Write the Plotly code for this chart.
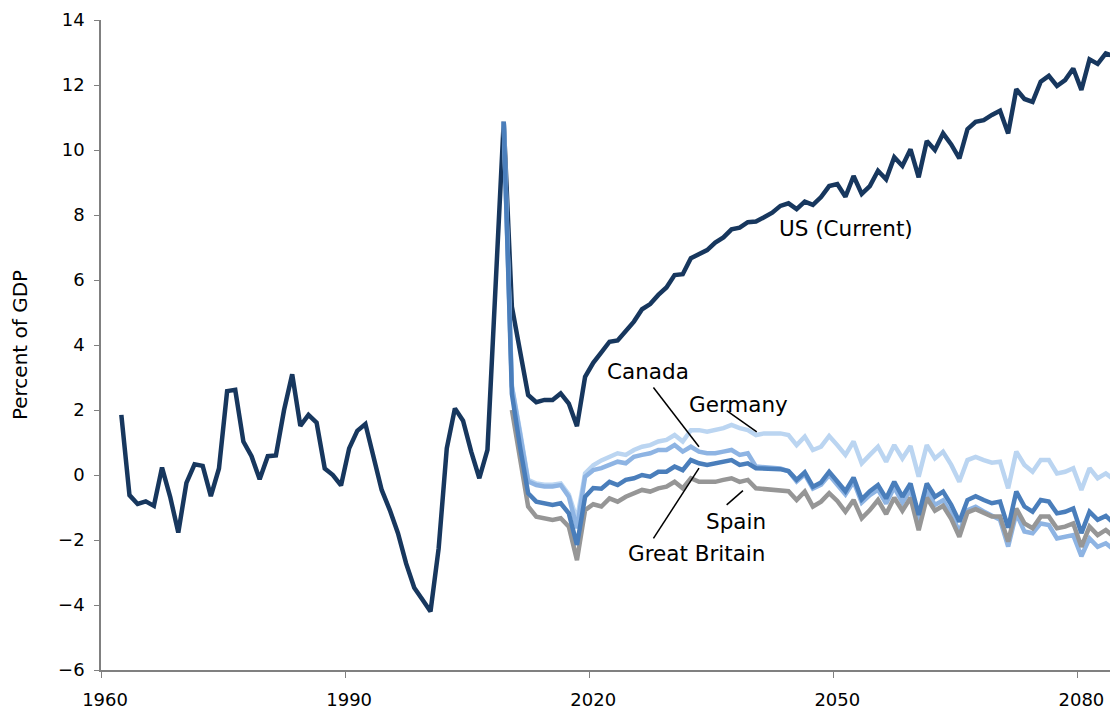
import plotly.graph_objects as go

# ---------- data (percent of GDP) ----------
us_years = list(range(1962, 2085))
us_values = [
    1.85, -0.62, -0.89, -0.81, -0.95, 0.23, -0.67, -1.77,            # 1962-1969
    -0.24, 0.33, 0.28, -0.65, 0.2, 2.58, 2.62, 1.03, 0.58, -0.13,     # 1970-1979
    0.58, 0.6, 2.0, 3.1, 1.51, 1.85, 1.61, 0.2, 0.0, -0.32,           # 1980-1989
    0.82, 1.36, 1.57, 0.51, -0.46, -1.08, -1.79, -2.72, -3.47, -3.83,  # 1990-1999
    -4.2, -2.26, 0.82, 2.05, 1.67, 0.72, -0.1, 0.77, 5.64, 10.87,     # 2000-2009
    5.18, 3.74, 2.46, 2.24, 2.31, 2.31, 2.51, 2.2, 1.5, 3.02,         # 2010-2019
    3.45, 3.77, 4.1, 4.14, 4.45, 4.72, 5.1, 5.26, 5.54, 5.77,         # 2020-2029
    6.15, 6.18, 6.67, 6.8, 6.92, 7.15, 7.31, 7.56, 7.61, 7.78,        # 2030-2039
    7.8, 7.93, 8.07, 8.28, 8.36, 8.18, 8.41, 8.31, 8.55, 8.89,        # 2040-2049
    8.95, 8.56, 9.2, 8.65, 8.89, 9.36, 9.1, 9.78, 9.51, 10.02,        # 2050-2059
    9.16, 10.28, 10.0, 10.51, 10.17, 9.74, 10.64, 10.87, 10.92, 11.08,  # 2060-2069
    11.21, 10.51, 11.87, 11.57, 11.48, 12.1, 12.28, 11.97, 12.15, 12.51,  # 2070-2079
    11.85, 12.79, 12.65, 12.97, 12.89,                                # 2080-2084
]

intl_years = list(range(2009, 2085))
germany = [
    10.87, 2.75, 1.35, -0.15, -0.26, -0.3, -0.3, -0.26, -0.6, -1.38,
    0.05, 0.3, 0.45, 0.56, 0.67, 0.62, 0.77, 0.87, 0.92, 1.03,
    1.08, 1.23, 1.03, 1.38, 1.38, 1.33, 1.38, 1.44, 1.54, 1.44,
    1.38, 1.23, 1.28, 1.28, 1.28, 1.23, 0.92, 1.18, 0.77, 0.87,
    1.2, 0.92, 0.62, 1.03, 0.36, 0.62, 0.87, 0.41, 0.92, 0.51,
    0.89, -0.05, 0.92, 0.51, 0.72, 0.31, -0.21, 0.46, 0.56, 0.46,
    0.38, 0.41, -0.41, 0.72, 0.31, 0.1, 0.46, 0.46, 0.05, 0.1,
    0.21, -0.46, 0.21, -0.1, 0.05, -0.15,
]
canada = [
    10.87, 2.72, 1.28, -0.2, -0.31, -0.35, -0.35, -0.31, -0.67, -1.64,
    -0.05, 0.15, 0.21, 0.31, 0.41, 0.36, 0.56, 0.62, 0.67, 0.77,
    0.77, 0.92, 0.72, 0.87, 0.72, 0.67, 0.67, 0.72, 0.77, 0.62,
    0.67, 0.26, 0.24, 0.22, 0.2, 0.12, -0.2, 0.02, -0.42, -0.3,
    0.0, -0.3, -0.6, -0.2, -0.85, -0.62, -0.45, -0.88, -0.38, -0.85,
    -0.45, -1.45, -0.5, -0.92, -0.78, -1.2, -1.75, -1.08, -0.98, -1.12,
    -1.25, -1.38, -2.2, -1.18, -1.74, -1.79, -1.49, -1.54, -1.95, -1.9,
    -1.85, -2.5, -1.95, -2.21, -2.1, -2.3,
]
great_britain = [
    10.87, 2.5, 0.87, -0.56, -0.82, -0.87, -0.92, -0.87, -1.18, -2.15,
    -0.67, -0.4, -0.42, -0.21, -0.31, -0.15, -0.1, 0.0, -0.05, 0.1,
    0.1, 0.26, 0.15, 0.46, 0.36, 0.31, 0.36, 0.4, 0.46, 0.31,
    0.36, 0.21, 0.2, 0.2, 0.18, 0.12, -0.15, 0.08, -0.36, -0.23,
    0.1, -0.2, -0.5, -0.08, -0.75, -0.5, -0.31, -0.72, -0.21, -0.67,
    -0.26, -1.23, -0.26, -0.67, -0.51, -0.92, -1.44, -0.77, -0.65, -0.77,
    -0.87, -0.82, -1.62, -0.51, -0.97, -1.13, -0.77, -0.82, -1.18, -1.13,
    -1.03, -1.79, -1.13, -1.38, -1.26, -1.49,
]
spain_years = list(range(2010, 2085))
spain = [
    2.0, 0.46, -0.97, -1.28, -1.33, -1.38, -1.33, -1.59, -2.62,
    -1.08, -0.9, -0.97, -0.72, -0.82, -0.67, -0.56, -0.46, -0.51, -0.41,
    -0.36, -0.21, -0.41, -0.1, -0.21, -0.21, -0.21, -0.15, -0.1, -0.21,
    -0.15, -0.41, -0.43, -0.43, -0.45, -0.5, -0.77, -0.51, -0.97, -0.82,
    -0.56, -0.8, -1.13, -0.77, -1.33, -1.08, -0.77, -1.2, -0.7, -1.1,
    -0.7, -1.7, -0.7, -1.1, -0.95, -1.35, -1.9, -1.15, -1.05, -1.15,
    -1.28, -1.28, -2.05, -1.03, -1.49, -1.64, -1.28, -1.28, -1.64, -1.59,
    -1.49, -2.21, -1.59, -1.85, -1.69, -1.9,
]

x_tick_labels = ["1960", "1990", "2020", "2050", "2080"]
y_ticks = [-6, -4, -2, 0, 2, 4, 6, 8, 10, 12, 14]

# ---------- figure ----------
FONT = "Verdana, DejaVu Sans, sans-serif"

series = [
    ("US (Current)", us_years, us_values, "#17375E"),
    ("Germany", intl_years, germany, "#BBD5F1"),
    ("Canada", intl_years, canada, "#8EB4E3"),
    ("Spain", spain_years, spain, "#969696"),
    ("Great Britain", intl_years, great_britain, "#4A7EBB"),
]

fig = go.Figure()
for name, xs, ys, color in series:
    fig.add_trace(go.Scatter(x=xs, y=ys, mode="lines", name=name,
                             line=dict(color=color, width=4.5)))

# series labels (text, x, y) and leader lines (x0, y0, x1, y1)
labels = [
    ("US (Current)", 2051.1, 7.57),
    ("Canada", 2026.7, 3.2),
    ("Germany", 2037.9, 2.18),
    ("Spain", 2037.55, -1.42),
    ("Great Britain", 2032.75, -2.4),
]
leaders = [
    (2027.4, 2.69, 2033.0, 0.87),
    (2036.4, 1.98, 2040.1, 1.33),
    (2036.4, -0.92, 2038.4, -0.48),
    (2027.4, -1.95, 2033.0, 0.21),
]
for text, x, y in labels:
    fig.add_annotation(x=x, y=y, text=text, showarrow=False,
                       font=dict(size=21.5, color="black", family=FONT))
for x0, y0, x1, y1 in leaders:
    fig.add_shape(type="line", x0=x0, y0=y0, x1=x1, y1=y1,
                  line=dict(color="black", width=1.5))

tick_years = [int(t) for t in x_tick_labels]
# the page body adds 8px on the top/left, margins compensate for it
fig.update_layout(
    width=1118, height=715,
    margin=dict(l=93, r=8, t=12, b=53),
    paper_bgcolor="white", plot_bgcolor="white",
    showlegend=False,
    font=dict(family=FONT, size=16, color="black"),
    xaxis=dict(
        range=[1959.5, 2084.5], automargin=False,
        tickvals=tick_years, ticktext=x_tick_labels, ticks="",
        ticklabelstandoff=13,
        minor=dict(tickvals=[t - 0.5 for t in tick_years], ticks="outside",
                   ticklen=6, tickcolor="#808080", showgrid=False),
        showline=True, linecolor="#808080", linewidth=1.5,
        showgrid=False, zeroline=False,
        tickfont=dict(size=18),
    ),
    yaxis=dict(
        range=[-6, 14], tickvals=y_ticks, automargin=False,
        ticks="outside", ticklen=5, tickcolor="#808080",
        ticklabelstandoff=6,
        showline=True, linecolor="#808080", linewidth=1.5,
        showgrid=False, zeroline=False,
        tickfont=dict(size=18),
        title=dict(text="Percent of GDP", font=dict(size=20), standoff=35),
    ),
)

fig.write_html("out.html")
